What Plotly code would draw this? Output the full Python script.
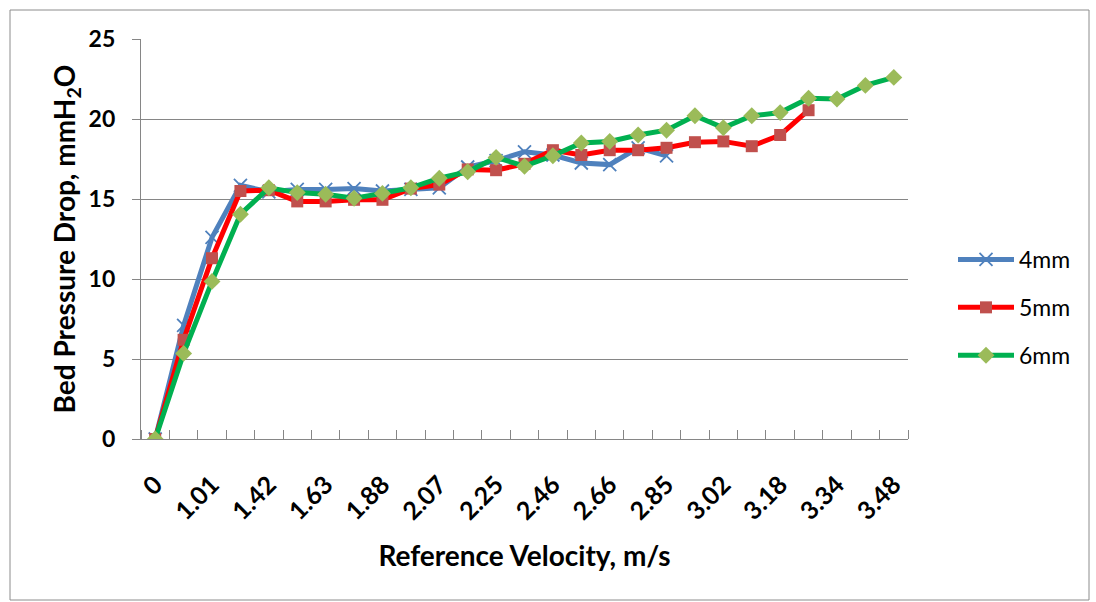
import plotly.graph_objects as go

categories = ["0", "0.62", "1.01", "1.23", "1.42", "1.53", "1.63", "1.76", "1.88", "1.98",
              "2.07", "2.16", "2.25", "2.36", "2.46", "2.56", "2.66", "2.76", "2.85", "2.94",
              "3.02", "3.10", "3.18", "3.26", "3.34", "3.41", "3.48"]

s4mm = [0, 7.1, 12.6, 15.85, 15.45, 15.6, 15.6, 15.65, 15.5, 15.6,
        15.7, 17.0, 17.4, 17.95, 17.75, 17.25, 17.15, 18.2, 17.7]
s5mm = [0, 6.2, 11.3, 15.5, 15.55, 14.85, 14.85, 14.95, 14.95, 15.65,
        15.9, 16.85, 16.8, 17.2, 18.05, 17.75, 18.05, 18.05, 18.2, 18.55,
        18.6, 18.3, 19.0, 20.55]
s6mm = [0, 5.35, 9.85, 14.05, 15.7, 15.4, 15.3, 15.05, 15.35, 15.7,
        16.3, 16.7, 17.6, 17.05, 17.7, 18.5, 18.6, 19.0, 19.3, 20.2,
        19.45, 20.2, 20.4, 21.3, 21.25, 22.1, 22.6]

FONT = "Lato"
W, H = 1096, 602
L, R, T, B = 141, 908, 39, 439

fig = go.Figure()
idx = list(range(len(categories)))

fig.add_trace(go.Scatter(
    x=idx[:len(s4mm)], y=s4mm, name="4mm", mode="lines+markers",
    line=dict(color="#4F81BD", width=5),
    marker=dict(symbol="x-thin-open", size=13, color="#4F81BD",
                line=dict(color="#4F81BD", width=1.8)),
    legendgroup="a"))
fig.add_trace(go.Scatter(
    x=idx[:len(s5mm)], y=s5mm, name="5mm", mode="lines+markers",
    line=dict(color="#FF0000", width=5),
    marker=dict(symbol="square", size=12, color="#C0504D",
                line=dict(width=0)),
    legendgroup="b"))
fig.add_trace(go.Scatter(
    x=idx[:len(s6mm)], y=s6mm, name="6mm", mode="lines+markers",
    line=dict(color="#00B050", width=5),
    marker=dict(symbol="diamond", size=13, color="#9BBB59",
                line=dict(width=0)),
    legendgroup="c"))

pw = R - L
ph = B - T
def px2x(p):
    return (p - L) / pw
def py2y(p):
    return (B - p) / ph

fig.add_shape(type="rect", xref="paper", yref="paper",
              x0=px2x(10), x1=px2x(1089), y0=py2y(600), y1=py2y(10),
              line=dict(color="#8C8C8C", width=1), layer="below")

fig.update_layout(
    width=W, height=H,
    margin=dict(l=L, r=W - R, t=T, b=H - B, pad=0),
    paper_bgcolor="white", plot_bgcolor="white",
    font=dict(family=FONT, color="black"),
    showlegend=True,
    legend=dict(x=px2x(953), y=py2y(238), xanchor="left", yanchor="top",
                font=dict(family=FONT, size=23, color="black"),
                traceorder="grouped", tracegroupgap=15, itemwidth=56,
                bgcolor="rgba(0,0,0,0)"),
)

fig.update_xaxes(
    range=[-0.5, len(categories) - 0.5],
    tickmode="array",
    tickvals=idx[::2], ticktext=categories[::2],
    tickangle=-45, ticks="", ticklen=0,
    ticklabelstandoff=20,
    tickfont=dict(family=FONT, size=25, color="black", weight="bold"),
    showgrid=False, zeroline=False,
    showline=True, linecolor="#868686", linewidth=1.3,
    minor=dict(tickmode="array", tickvals=[i - 0.5 for i in range(len(categories) + 1)],
               ticks="inside", ticklen=9, tickcolor="#868686", tickwidth=1.3,
               showgrid=False),
    title=dict(text="<b>Reference Velocity, m/s</b>", standoff=22,
               font=dict(family=FONT, size=28, color="black")),
)
fig.update_yaxes(
    range=[0, 25], dtick=5, tick0=0,
    ticks="outside", ticklen=8, tickcolor="#868686", tickwidth=1.3,
    ticklabelstandoff=12,
    tickfont=dict(family=FONT, size=23, color="black", weight="bold"),
    showgrid=True, gridcolor="#868686", gridwidth=1.3,
    zeroline=False, showline=True, linecolor="#868686", linewidth=1.3,
    title=dict(text="<b>Bed Pressure Drop, mmH<sub>2</sub>O</b>", standoff=4,
               font=dict(family=FONT, size=28, color="black")),
)

fig.write_html("out.html")
